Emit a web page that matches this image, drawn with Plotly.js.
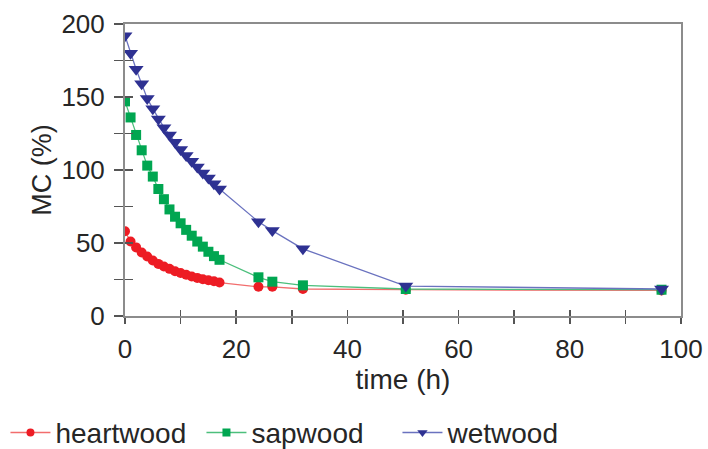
<!DOCTYPE html>
<html>
<head>
<meta charset="utf-8">
<script src="https://cdn.plot.ly/plotly-3.0.1.min.js"></script>
<style>html,body{margin:0;padding:0;background:#fff;}#chart{width:708px;height:449px;}</style>
</head>
<body>
<div id="chart"></div>
<script>
// time points (h)
const timeH = [0,1,2,3,4,5,6,7,8,9,10,11,12,13,14,15,16,17,24,26.5,32,50.5,96.5];
// moisture content (%)
const heartwood = [58,51,47,43.5,40.8,38,35.7,33.9,32.3,30.7,29.4,28.2,27,26.1,25.2,24.5,23.8,22.9,20,20,18.5,18,17.5];
const sapwood   = [147,136,124,113.5,103,95.5,87,80,73,68,63.5,59,55,51,47.5,44,41,38.5,26.5,23.5,21,18.5,18];
const wetwood   = [192,180,169,159,149,142,135,129,124,119,114,110,106,102,98,94.5,90.5,87,64.5,58.5,46,20.5,18.5];
const seriesNames = ['heartwood','sapwood','wetwood'];
const xTickVals = [0,10,20,30,40,50,60,70,80,90,100];
const xTickText = ['0','','20','','40','','60','','80','','100'];
const yTickVals = [0,25,50,75,100,125,150,175,200];
const yTickText = ['0','','50','','100','','150','','200'];

const FONT = 'Liberation Sans, Arial, sans-serif';
const AX = '#8c8c8c';
const TXT = '#262626';

const styles = [
  {line:'#f26d6d', mk:'#ed1c24', sym:'circle', size:10, lsize:8},
  {line:'#4cbf7c', mk:'#00a651', sym:'square', size:10, lsize:8},
  {line:'#6a72bf', mk:'#2e3192', sym:'triangle-down', size:13, lsize:9}
];
const ys = [heartwood, sapwood, wetwood];
const traces = [];
ys.forEach((y,i)=>{
  traces.push({x:timeH, y:y, type:'scatter', mode:'lines+markers', name:seriesNames[i],
    showlegend:false,
    line:{color:styles[i].line, width:1.3},
    marker:{symbol:styles[i].sym, size:styles[i].size, color:styles[i].mk}});
});
ys.forEach((y,i)=>{
  traces.push({x:[null], y:[null], type:'scatter', mode:'lines+markers', name:seriesNames[i],
    line:{color:styles[i].line, width:1.3},
    marker:{symbol:styles[i].sym, size:styles[i].lsize, color:styles[i].mk}});
});
traces.push({x:[], y:[], xaxis:'x2', yaxis:'y2', showlegend:false, hoverinfo:'skip'});

const layout = {
  width:708, height:449,
  margin:{l:125, r:27, t:24, b:133, autoexpand:false},
  paper_bgcolor:'#fff', plot_bgcolor:'#fff',
  font:{family:FONT, color:TXT},
  showlegend:true,
  xaxis:{range:[0,100], showgrid:false, zeroline:false, showline:true, mirror:true,
    linecolor:AX, linewidth:2, ticks:'outside', ticklen:6, tickwidth:1.5, tickcolor:'#555',
    tickmode:'array', tickvals:xTickVals, ticktext:xTickText, tickfont:{size:26, family:FONT, color:TXT},
    ticklabelstandoff:3,
    title:{text:'time (h)', font:{size:28, family:FONT, color:TXT}, standoff:2}},
  yaxis:{range:[0,200], showgrid:false, zeroline:false, showline:true, mirror:true,
    linecolor:AX, linewidth:2, ticks:'outside', ticklen:9, tickwidth:1.5, tickcolor:'#555',
    tickmode:'array', tickvals:yTickVals, ticktext:yTickText, tickfont:{size:26, family:FONT, color:TXT},
    ticklabelstandoff:4,
    title:{text:'MC (%)', font:{size:27, family:FONT, color:TXT}, standoff:2}},
  xaxis2:{range:[0,100], overlaying:'x', anchor:'y2', showgrid:false, zeroline:false, showline:false,
    ticks:'inside', ticklen:6, tickwidth:1.5, tickcolor:'#555', tickmode:'array', tickvals:xTickVals,
    showticklabels:false},
  yaxis2:{range:[0,200], overlaying:'y', anchor:'x2', showgrid:false, zeroline:false, showline:false,
    ticks:'inside', ticklen:8, tickwidth:1.5, tickcolor:'#555', tickmode:'array', tickvals:yTickVals.slice(0,8),
    showticklabels:false},
  legend:{orientation:'h', x:-0.215, xanchor:'left', y:-0.40, yanchor:'middle',
    font:{size:28, family:FONT, color:TXT}, entrywidth:141, entrywidthmode:'pixels',
    itemwidth:40, bgcolor:'rgba(0,0,0,0)'}
};
Plotly.newPlot('chart', traces, layout, {displayModeBar:false, staticPlot:true});
</script>
</body>
</html>
